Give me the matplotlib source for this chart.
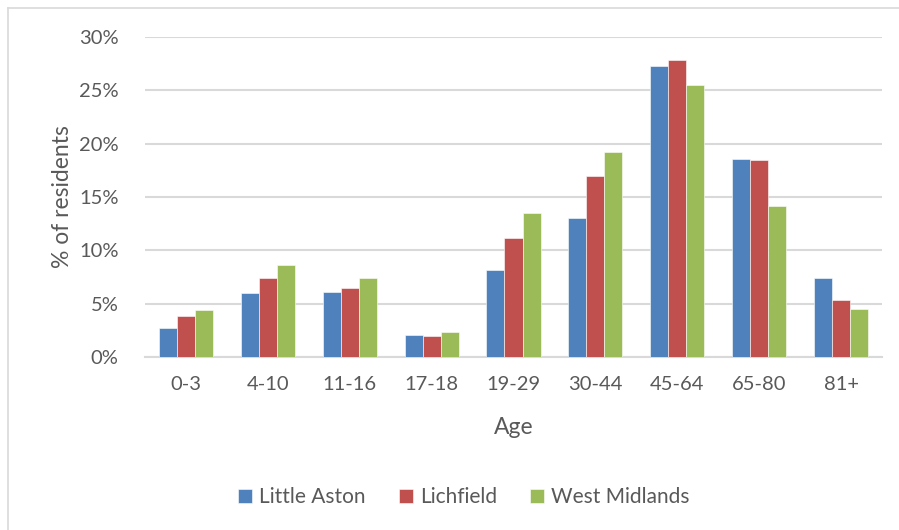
import matplotlib
matplotlib.use("Agg")
import matplotlib.pyplot as plt
import numpy as np
from matplotlib.lines import Line2D

categories = ["0-3", "4-10", "11-16", "17-18", "19-29", "30-44", "45-64", "65-80", "81+"]
little_aston = [2.7, 6.0, 6.1, 2.1, 8.2, 13.0, 27.3, 18.6, 7.4]
lichfield = [3.8, 7.4, 6.5, 2.0, 11.2, 17.0, 27.8, 18.5, 5.3]
west_midlands = [4.4, 8.6, 7.4, 2.3, 13.5, 19.2, 25.5, 14.2, 4.5]
series_names = ["Little Aston", "Lichfield", "West Midlands"]
colors = ["#4F81BD", "#C0504D", "#9BBB59"]
yticks = [0, 5, 10, 15, 20, 25, 30]

plt.rcParams['font.family'] = ['Lato', 'DejaVu Sans']
txt = "#595959"

fig = plt.figure(figsize=(8.99, 5.3), dpi=100)
ax = fig.add_axes([145/899, 1-357/530, (882-145)/899, (357-37)/530])

x = np.arange(len(categories))
w = 0.22
for i, (vals, c, n) in enumerate(zip([little_aston, lichfield, west_midlands], colors, series_names)):
    ax.bar(x + (i-1)*w, vals, width=w, color=c, label=n, edgecolor="white", linewidth=0.4, zorder=3)

ax.set_xlim(-0.5, len(categories)-0.5)
ax.set_ylim(0, 30)
ax.set_yticks(yticks)
ax.set_yticklabels([f"{t}%" for t in yticks])
ax.set_xticks(x)
ax.set_xticklabels(categories)
ax.yaxis.grid(True, color="#D9D9D9", linewidth=1.5, zorder=0)
ax.set_axisbelow(True)
for s in ["top", "right", "left"]:
    ax.spines[s].set_visible(False)
ax.spines["bottom"].set_color("#D9D9D9")
ax.spines["bottom"].set_linewidth(1.5)
ax.tick_params(axis="both", length=0, labelsize=14.5, colors=txt)
ax.tick_params(axis="y", pad=19)
ax.tick_params(axis="x", pad=14)
ax.set_xlabel("Age", fontsize=16.5, color=txt, labelpad=17)
ax.set_ylabel("% of residents", fontsize=16.5, color=txt, labelpad=4)

leg = fig.legend(loc="center", bbox_to_anchor=(464/899, 1-497/530), ncol=3, frameon=False,
                 fontsize=15, handlelength=0.65, handleheight=0.65, columnspacing=1.6, handletextpad=0.35)
for t in leg.get_texts():
    t.set_color(txt)

# chart frame (left and top edges visible)
fig.add_artist(Line2D([8/899, 8/899], [0, 1-8/530], color="#D9D9D9", linewidth=1.2))
fig.add_artist(Line2D([8/899, 1], [1-8/530, 1-8/530], color="#D9D9D9", linewidth=1.2))

fig.savefig("out.png", dpi=100)
